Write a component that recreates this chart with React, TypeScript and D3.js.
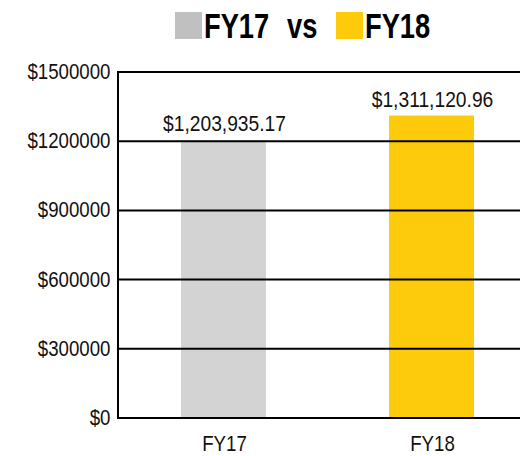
import React from "react";
import * as d3 from "d3";

const categories = ["FY17", "FY18"];
const values = [1203935.17, 1311120.96];
const valueLabels = ["$1,203,935.17", "$1,311,120.96"];
const barColors = ["#d3d3d3", "#fdca0c"];
const legendColors = ["#c0c0c0", "#fdca0c"];
const yTicks = [0, 300000, 600000, 900000, 1200000, 1500000];

const W = 520;
const H = 456;
const FONT = "'Liberation Sans', Arial, sans-serif";

function NText(props: { x: number; y: number; anchor?: string; size: number; sx: number; bold?: boolean; children: any }) {
  return (
    <g transform={`translate(${props.x},${props.y}) scale(${props.sx},1)`}>
      <text
        x={0}
        y={0}
        textAnchor={props.anchor || "start"}
        fontFamily={FONT}
        fontWeight={props.bold ? "bold" : "normal"}
        fontSize={props.size}
        fill={props.bold ? "#000" : "#111"}
      >
        {props.children}
      </text>
    </g>
  );
}

export default function App() {
  const left = 118;
  const top = 72;
  const bottom = 418;
  const x = d3.scaleBand<string>().domain(categories).range([119.5, 535.5]).paddingInner(0.59).paddingOuter(0.295);
  const y = d3.scaleLinear().domain([0, 1500000]).range([bottom, top]);
  const bw = 85;

  return (
    <svg width={W} height={H} style={{ position: "absolute", left: 0, top: 0 }}>
      <rect x={0} y={0} width={W} height={H} fill="#fff" />
      {/* title / legend */}
      <rect x={175} y={12} width={27} height={27} fill={legendColors[0]} />
      <NText x={204} y={38} size={35} sx={0.78} bold>FY17</NText>
      <NText x={287} y={38} size={35} sx={0.78} bold>vs</NText>
      <rect x={336} y={12} width={27} height={27} fill={legendColors[1]} />
      <NText x={365} y={38} size={35} sx={0.78} bold>FY18</NText>

      {/* bars */}
      {categories.map((c, i) => {
        const cx = (x(c) as number) + x.bandwidth() / 2;
        return (
          <g key={c}>
            <rect x={cx - bw / 2} y={y(values[i])} width={bw} height={bottom - y(values[i])} fill={barColors[i]} />
            <NText x={cx + 1} y={y(values[i]) - 9} anchor="middle" size={22.5} sx={0.855}>
              {valueLabels[i]}
            </NText>
            <NText x={cx + 1} y={451} anchor="middle" size={22.5} sx={0.83}>
              {c}
            </NText>
          </g>
        );
      })}

      {/* gridlines */}
      {yTicks.map((t) => (
        <g key={t}>
          <line x1={left} x2={W} y1={y(t)} y2={y(t)} stroke="#000" strokeWidth={2} />
          <NText x={110.5} y={y(t) + 7} anchor="end" size={22.5} sx={0.83}>
            {"$" + t}
          </NText>
        </g>
      ))}
      <line x1={left} x2={left} y1={top - 1} y2={bottom + 1} stroke="#000" strokeWidth={2} />
    </svg>
  );
}
